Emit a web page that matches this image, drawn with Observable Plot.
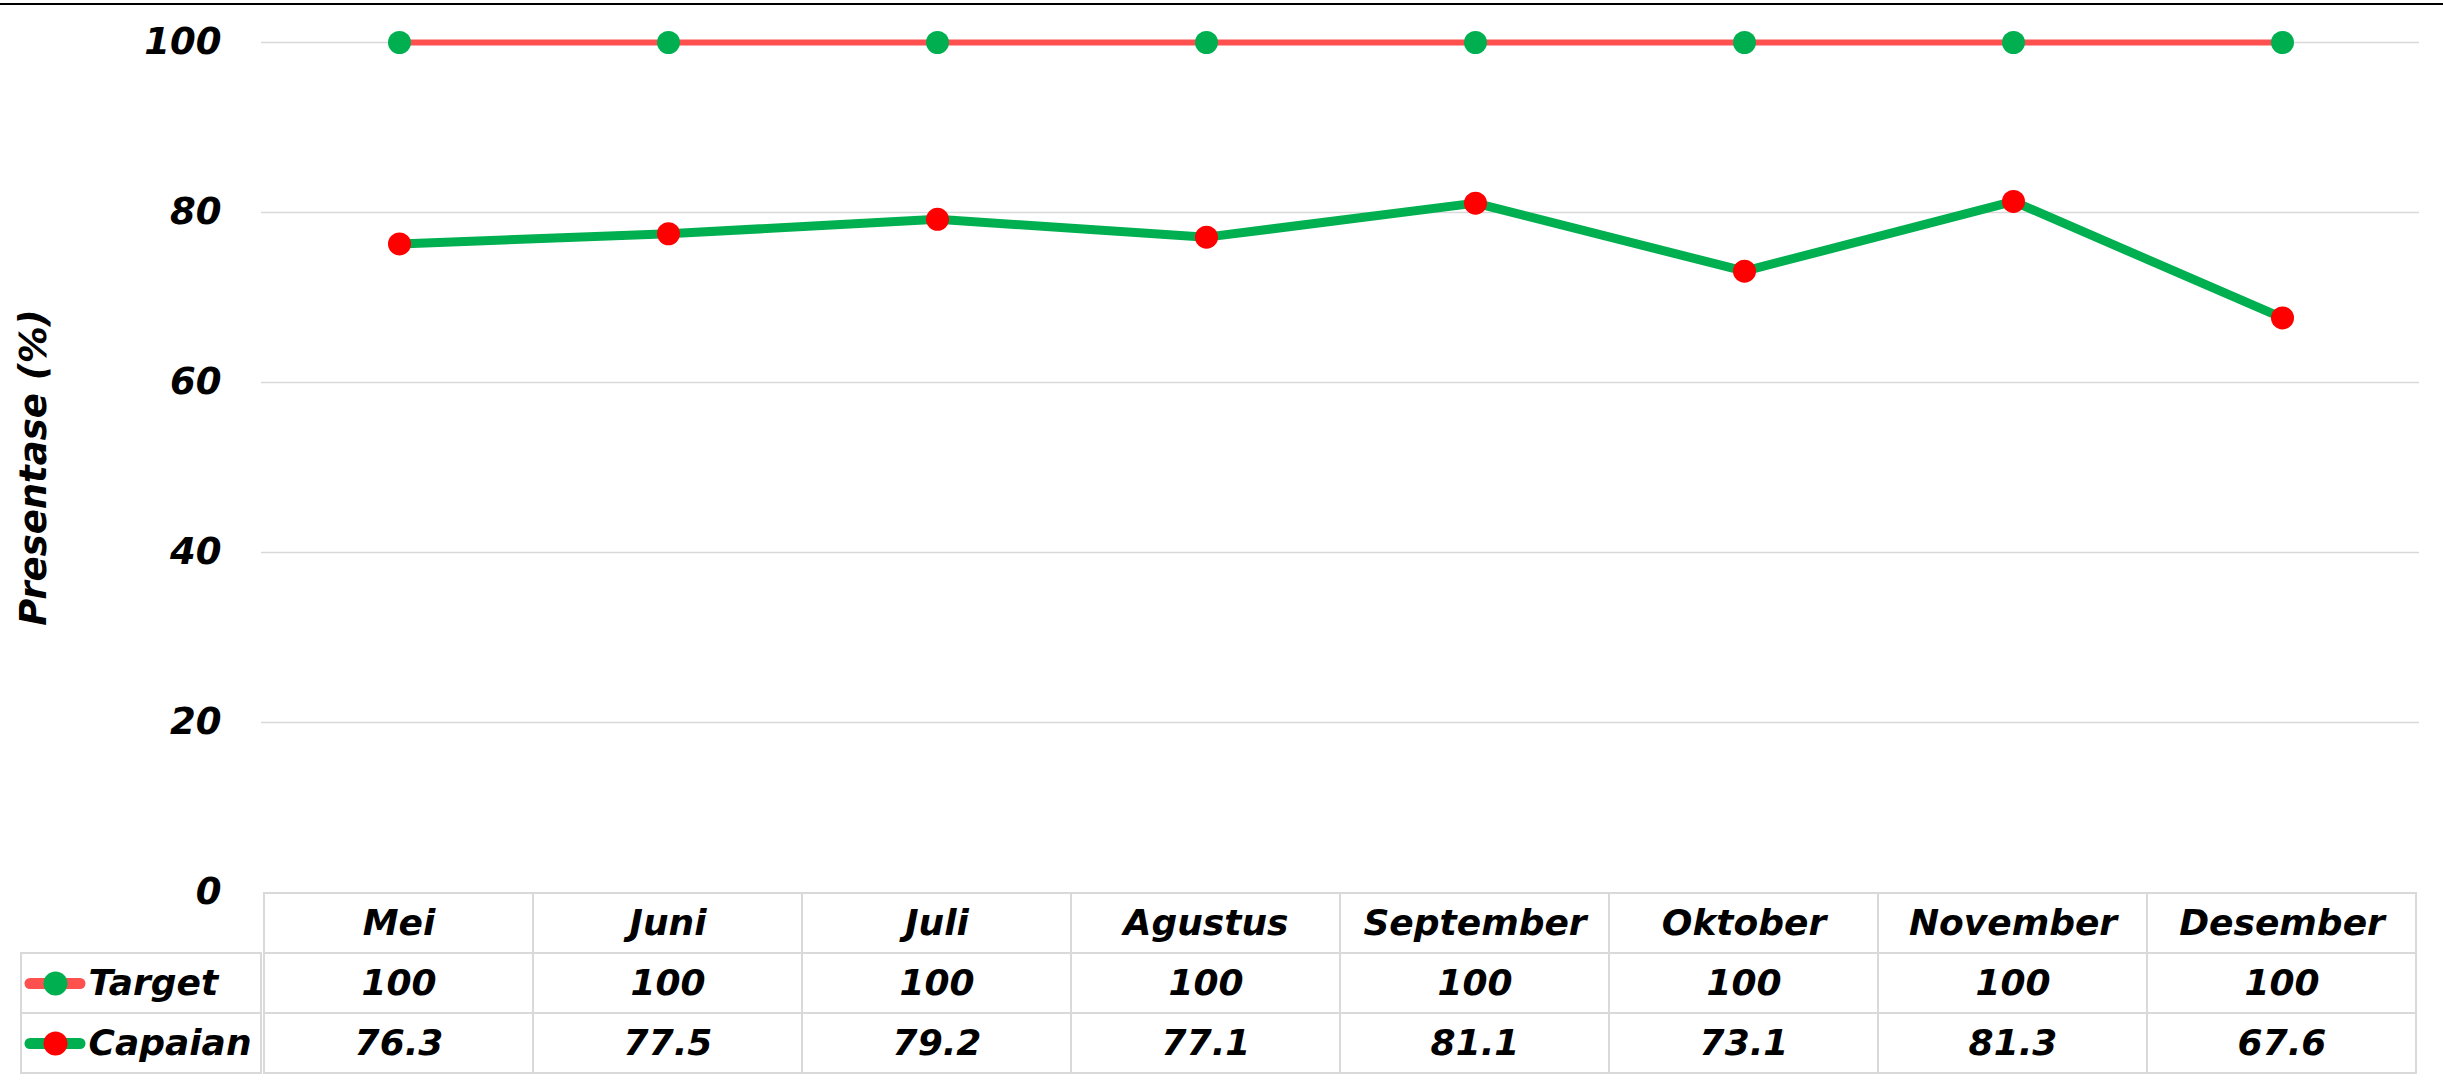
<!DOCTYPE html>
<html>
<head>
<meta charset="utf-8">
<script src="https://cdn.jsdelivr.net/npm/d3@7"></script>
<script src="https://cdn.jsdelivr.net/npm/@observablehq/plot@0.6"></script>
<style>
  html, body { margin: 0; padding: 0; background: #fff; }
  #wrap { position: relative; width: 2443px; height: 1081px; overflow: hidden; font-family: "DejaVu Sans", sans-serif; }
  #topline { position: absolute; left: 0; top: 3px; width: 2443px; height: 2px; background: #000; }
  .layer { position: absolute; }
  svg { overflow: visible; }
</style>
</head>
<body>
<div id="wrap">
  <div id="topline"></div>
  <div id="main" class="layer" style="left:0;top:0"></div>
  <div id="table" class="layer" style="left:0;top:892px"></div>
  <div id="legend" class="layer" style="left:21px;top:892px"></div>
</div>
<script>
// ---- data ----
const months = ["Mei", "Juni", "Juli", "Agustus", "September", "Oktober", "November", "Desember"];
const target = [100, 100, 100, 100, 100, 100, 100, 100];
const capaian = [76.3, 77.5, 79.2, 77.1, 81.1, 73.1, 81.3, 67.6];
const yTicks = [0, 20, 40, 60, 80, 100];
const seriesNames = ["Target", "Capaian"];
const yLabel = "Presentase (%)";

// ---- styles ----
const lineColors = {Target: "#FF5050", Capaian: "#00B050"};
const dotColors = {Target: "#00B050", Capaian: "#FF0000"};
const lineWidths = {Target: 6, Capaian: 9};
const gridColor = "#d9d9d9";
const font = {fontFamily: "'DejaVu Sans', sans-serif", fontWeight: "bold", fontStyle: "italic", fontSize: "36px", color: "#000", background: "transparent"};

const series = {Target: target, Capaian: capaian};
const points = seriesNames.flatMap(s => months.map((m, i) => ({series: s, month: m, value: series[s][i]})));

const W = 2443, H = 1081, ML = 261, MR = 24, MT = 42, MB = 189;

// ---- main chart ----
const main = Plot.plot({
  width: W, height: H,
  marginLeft: ML, marginRight: MR, marginTop: MT, marginBottom: MB,
  style: font,
  x: {type: "point", domain: months, padding: 0.5, axis: null},
  y: {domain: [0, 100], axis: null},
  marks: [
    Plot.gridY(yTicks.filter(t => t > 0), {stroke: gridColor, strokeOpacity: 1, strokeWidth: 1.5}),
    Plot.axisY({ticks: yTicks, tickSize: 0, tickPadding: 40, label: null, fontSize: 37}),
    Plot.text([yLabel], {frameAnchor: "left", dx: 34 - ML, rotate: -90, textAnchor: "middle", lineAnchor: "middle", text: d => d, fontSize: 37}),
    ...seriesNames.map(s => Plot.line(points.filter(d => d.series === s), {
      x: "month", y: "value", stroke: lineColors[s], strokeWidth: lineWidths[s], strokeLinejoin: "round"
    })),
    ...seriesNames.map(s => Plot.dot(points.filter(d => d.series === s), {
      x: "month", y: "value", r: 11.5, fill: dotColors[s], stroke: "none"
    }))
  ]
});
document.getElementById("main").appendChild(main);

// ---- data table ----
const rowKeys = ["header", ...seriesNames];
const cells = [
  ...months.map(m => ({month: m, row: "header", text: m})),
  ...seriesNames.flatMap(s => months.map((m, i) => ({month: m, row: s, text: String(series[s][i])})))
];
const table = Plot.plot({
  width: W, height: 182,
  marginLeft: ML, marginRight: MR, marginTop: 0, marginBottom: 1,
  style: font,
  x: {type: "band", domain: months, padding: 0, axis: null},
  y: {type: "band", domain: rowKeys, padding: 0, axis: null},
  marks: [
    Plot.cell(cells, {x: "month", y: "row", fill: "none", stroke: gridColor, strokeWidth: 2, inset: 0}),
    Plot.text(cells, {x: "month", y: "row", text: "text", fontSize: 36, lineAnchor: "middle"})
  ]
});
document.getElementById("table").appendChild(table);

// ---- legend column ----
const legendRows = seriesNames.map(s => ({name: s}));
const legend = Plot.plot({
  width: 241, height: 182,
  marginLeft: 0, marginRight: 1, marginTop: 0, marginBottom: 1,
  style: font,
  y: {type: "band", domain: rowKeys, padding: 0, axis: null},
  marks: [
    Plot.cell(legendRows, {y: "name", fill: "none", stroke: gridColor, strokeWidth: 2, inset: 0}),
    ...seriesNames.map(s => Plot.ruleY(legendRows.filter(d => d.name === s), {
      y: "name", stroke: lineColors[s], strokeWidth: 11, strokeLinecap: "round", insetLeft: 9, insetRight: 240 - 59
    })),
    ...seriesNames.map(s => Plot.dot(legendRows.filter(d => d.name === s), {
      y: "name", frameAnchor: "left", dx: 34, r: 12, fill: dotColors[s]
    })),
    Plot.text(legendRows, {y: "name", text: "name", frameAnchor: "left", dx: 67, textAnchor: "start", fontSize: 36, lineAnchor: "middle"})
  ]
});
document.getElementById("legend").appendChild(legend);
</script>
</body>
</html>
